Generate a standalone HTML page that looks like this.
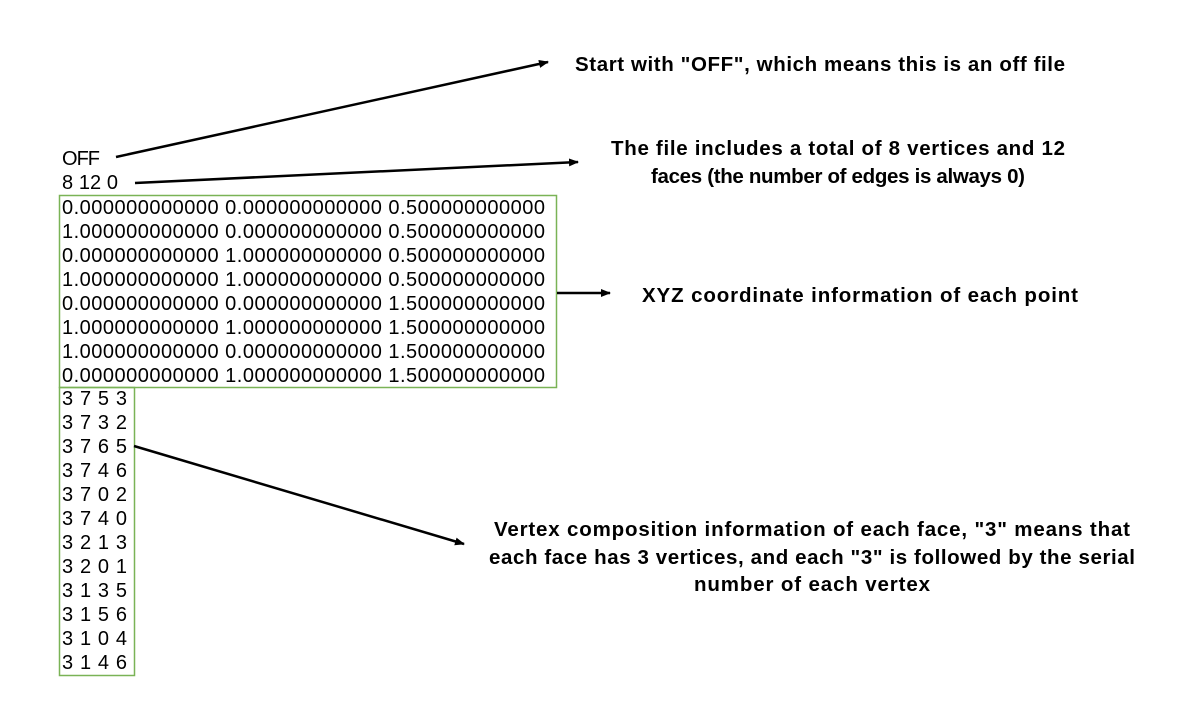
<!DOCTYPE html>
<html><head><meta charset="utf-8"><style>
html,body{margin:0;padding:0;background:#fff;}
svg text{font-family:"Liberation Sans",sans-serif;fill:#000;}
.m{font-size:20px;}
.b{font-size:20.5px;font-weight:bold;}
</style></head><body>
<svg width="1189" height="722" viewBox="0 0 1189 722" xmlns="http://www.w3.org/2000/svg">
<defs><marker id="a" markerWidth="10" markerHeight="8" refX="9" refY="4" orient="auto" markerUnits="userSpaceOnUse"><path d="M0,0 L10,4 L0,8 z" fill="#000"/></marker></defs>
<rect x="59.5" y="195.5" width="497" height="192" fill="none" stroke="#7ab356" stroke-width="1.5"/>
<rect x="59.5" y="387.5" width="75" height="288" fill="none" stroke="#7ab356" stroke-width="1.5"/>
<g class="m">
<text x="62" y="165" textLength="38">OFF</text>
<text x="62" y="189" textLength="56">8 12 0</text>
<text x="62" y="214" textLength="483">0.000000000000 0.000000000000 0.500000000000</text>
<text x="62" y="238" textLength="483">1.000000000000 0.000000000000 0.500000000000</text>
<text x="62" y="262" textLength="483">0.000000000000 1.000000000000 0.500000000000</text>
<text x="62" y="286" textLength="483">1.000000000000 1.000000000000 0.500000000000</text>
<text x="62" y="310" textLength="483">0.000000000000 0.000000000000 1.500000000000</text>
<text x="62" y="334" textLength="483">1.000000000000 1.000000000000 1.500000000000</text>
<text x="62" y="358" textLength="483">1.000000000000 0.000000000000 1.500000000000</text>
<text x="62" y="382" textLength="483">0.000000000000 1.000000000000 1.500000000000</text>
<text x="62" y="405" textLength="65">3 7 5 3</text>
<text x="62" y="429" textLength="65">3 7 3 2</text>
<text x="62" y="453" textLength="65">3 7 6 5</text>
<text x="62" y="477" textLength="65">3 7 4 6</text>
<text x="62" y="501" textLength="65">3 7 0 2</text>
<text x="62" y="525" textLength="65">3 7 4 0</text>
<text x="62" y="549" textLength="65">3 2 1 3</text>
<text x="62" y="573" textLength="65">3 2 0 1</text>
<text x="62" y="597" textLength="65">3 1 3 5</text>
<text x="62" y="621" textLength="65">3 1 5 6</text>
<text x="62" y="645" textLength="65">3 1 0 4</text>
<text x="62" y="669" textLength="65">3 1 4 6</text>
</g>
<g stroke="#000" stroke-width="2.5" fill="none">
<line x1="116" y1="157" x2="548" y2="62" marker-end="url(#a)"/>
<line x1="135" y1="183" x2="578" y2="162" marker-end="url(#a)"/>
<line x1="557" y1="293" x2="610" y2="293" marker-end="url(#a)"/>
<line x1="134" y1="446" x2="464" y2="544" marker-end="url(#a)"/>
</g>
<g class="b">
<text x="575" y="71" textLength="490">Start with "OFF", which means this is an off file</text>
<text x="838" y="155" text-anchor="middle" textLength="454">The file includes a total of 8 vertices and 12</text>
<text x="838" y="183" text-anchor="middle" textLength="374">faces (the number of edges is always 0)</text>
<text x="642" y="302" textLength="436">XYZ coordinate information of each point</text>
<text x="812" y="536" text-anchor="middle" textLength="636">Vertex composition information of each face, "3" means that</text>
<text x="812" y="564" text-anchor="middle" textLength="646">each face has 3 vertices, and each "3" is followed by the serial</text>
<text x="812" y="591" text-anchor="middle" textLength="236">number of each vertex</text>
</g>
</svg>
</body></html>
